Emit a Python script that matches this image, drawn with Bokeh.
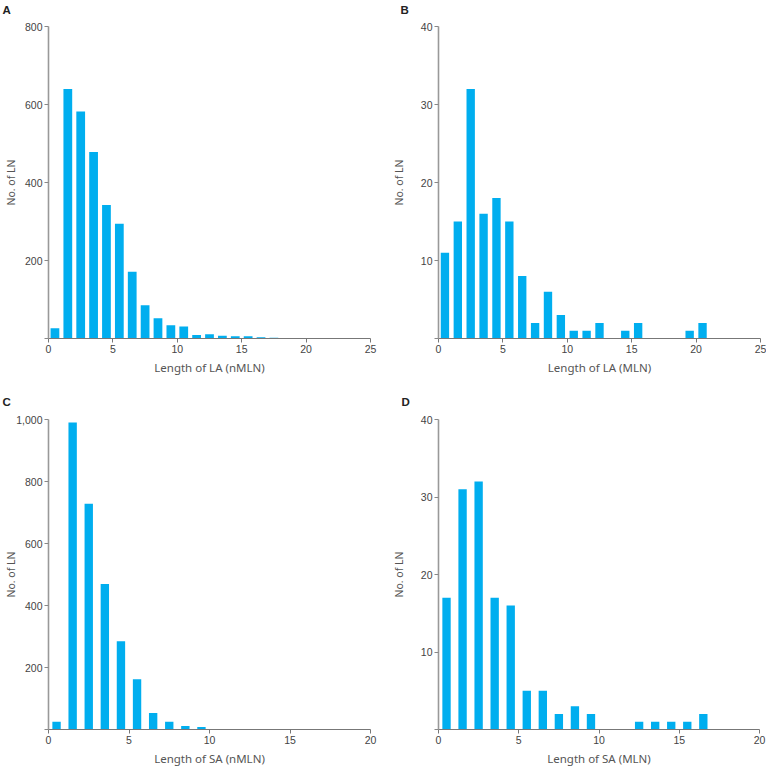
from bokeh.plotting import figure
from bokeh.layouts import column, row
from bokeh.models import FixedTicker, NumeralTickFormatter, Range1d, Title
from bokeh.embed import file_html
from bokeh.resources import INLINE

# ---- data ----
# bin midpoints (length, mm) and counts of lymph nodes
la_nmln_x = [0.5, 1.5, 2.5, 3.5, 4.5, 5.5, 6.5, 7.5, 8.5, 9.5, 10.5, 11.5, 12.5, 13.5, 14.5, 15.5, 16.5, 17.5]
la_nmln_n = [26, 640, 582, 478, 342, 294, 171, 85, 52, 34, 31, 9, 11, 7, 6, 6, 3, 2]

la_mln_x = [0.5, 1.5, 2.5, 3.5, 4.5, 5.5, 6.5, 7.5, 8.5, 9.5, 10.5, 11.5, 12.5, 13.5, 14.5, 15.5, 16.5, 17.5, 18.5, 19.5, 20.5]
la_mln_n = [11, 15, 32, 16, 18, 15, 8, 2, 6, 3, 1, 1, 2, 0, 1, 2, 0, 0, 0, 1, 2]

sa_nmln_x = [0.5, 1.5, 2.5, 3.5, 4.5, 5.5, 6.5, 7.5, 8.5, 9.5]
sa_nmln_n = [25, 990, 728, 469, 285, 162, 53, 25, 11, 8]

sa_mln_x = [0.5, 1.5, 2.5, 3.5, 4.5, 5.5, 6.5, 7.5, 8.5, 9.5, 10.5, 11.5, 12.5, 13.5, 14.5, 15.5, 16.5]
sa_mln_n = [17, 31, 32, 17, 16, 5, 5, 2, 3, 2, 0, 0, 1, 1, 1, 1, 2]

x_ticks_la = [0, 5, 10, 15, 20, 25]
x_ticks_sa = [0, 5, 10, 15, 20]
y_ticks_a = [0, 200, 400, 600, 800]
y_ticks_b = [0, 10, 20, 30, 40]
y_ticks_c = [0, 200, 400, 600, 800, 1000]
y_ticks_d = [0, 10, 20, 30, 40]

BAR = "#00aeef"


def panel(letter, xs, ns, xmax, xticks, ymax, yticks, xlabel, bar_w,
          width, height, bl, br, bt, bb, ylabel_standoff, title_offset, gap, comma=False):
    p = figure(width=width, height=height, output_backend="svg", toolbar_location=None,
               x_range=Range1d(0, xmax), y_range=Range1d(0, ymax),
               min_border_left=bl, min_border_right=br, min_border_top=bt, min_border_bottom=bb)

    # spacer between frame and panel letter, then the letter itself (outermost)
    p.add_layout(Title(text=" ", text_font_size="1px", standoff=gap), "above")
    p.add_layout(Title(text=letter, align="left", offset=title_offset, standoff=0,
                       text_font="Liberation Sans", text_font_style="bold",
                       text_font_size="11.5px", text_color="#222222"), "above")

    p.vbar(x=xs, top=ns, width=bar_w, fill_color=BAR, line_color=None)
    p.outline_line_color = None
    p.xgrid.visible = False
    p.ygrid.visible = False
    p.background_fill_color = "white"
    p.border_fill_color = "white"

    xa = p.xaxis[0]
    xa.ticker = FixedTicker(ticks=xticks)
    xa.axis_label = xlabel
    xa.axis_label_text_font = "Noto Sans"
    xa.axis_label_text_font_style = "normal"
    xa.axis_label_text_font_size = "11.5px"
    xa.axis_label_text_color = "#555555"
    xa.axis_label_standoff = 4
    xa.major_label_text_font = "Liberation Sans"
    xa.major_label_text_font_size = "10.5px"
    xa.major_label_text_color = "#444444"
    xa.major_label_standoff = 2
    xa.major_tick_out = 4
    xa.major_tick_in = 0
    xa.minor_tick_line_color = None
    xa.axis_line_color = "#777777"
    xa.major_tick_line_color = "#777777"

    ya = p.yaxis[0]
    ya.ticker = FixedTicker(ticks=yticks)
    ya.axis_label = "No. of LN"
    ya.axis_label_text_font = "Noto Sans"
    ya.axis_label_text_font_style = "normal"
    ya.axis_label_text_font_size = "10.5px"
    ya.axis_label_text_color = "#555555"
    ya.axis_label_standoff = ylabel_standoff
    ya.major_label_text_font = "Liberation Sans"
    ya.major_label_text_font_size = "10.5px"
    ya.major_label_text_color = "#444444"
    ya.major_label_standoff = 2
    ya.major_label_overrides = {0: ""}
    ya.major_tick_out = 4
    ya.major_tick_in = 0
    ya.minor_tick_line_color = None
    ya.axis_line_color = "#999999"
    ya.axis_line_width = 1.6
    ya.major_tick_line_color = "#888888"
    if comma:
        ya.formatter = NumeralTickFormatter(format="0,0")
    return p


H1, H2 = 392, 376
pA = panel("A", la_nmln_x, la_nmln_n, 25, x_ticks_la, 800, y_ticks_a, "Length of LA (nMLN)", 0.68,
           388, H1, 48, 18, 26, 54, 4, -46, 8)
pB = panel("B", la_mln_x, la_mln_n, 25, x_ticks_la, 40, y_ticks_b, "Length of LA (MLN)", 0.65,
           378, H1, 50, 6, 26, 54, 12, -38, 8)
pC = panel("C", sa_nmln_x, sa_nmln_n, 20, x_ticks_sa, 1000, y_ticks_c, "Length of SA (nMLN)", 0.52,
           388, H2, 48, 18, 27, 37, -5, -46, 9, comma=True)
pD = panel("D", sa_mln_x, sa_mln_n, 20, x_ticks_sa, 40, y_ticks_d, "Length of SA (MLN)", 0.52,
           378, H2, 50, 7, 27, 37, 12, -37, 9)

layout = column(row(pA, pB, spacing=0), row(pC, pD, spacing=0), spacing=0)
open("out.html", "w").write(file_html(layout, INLINE))
